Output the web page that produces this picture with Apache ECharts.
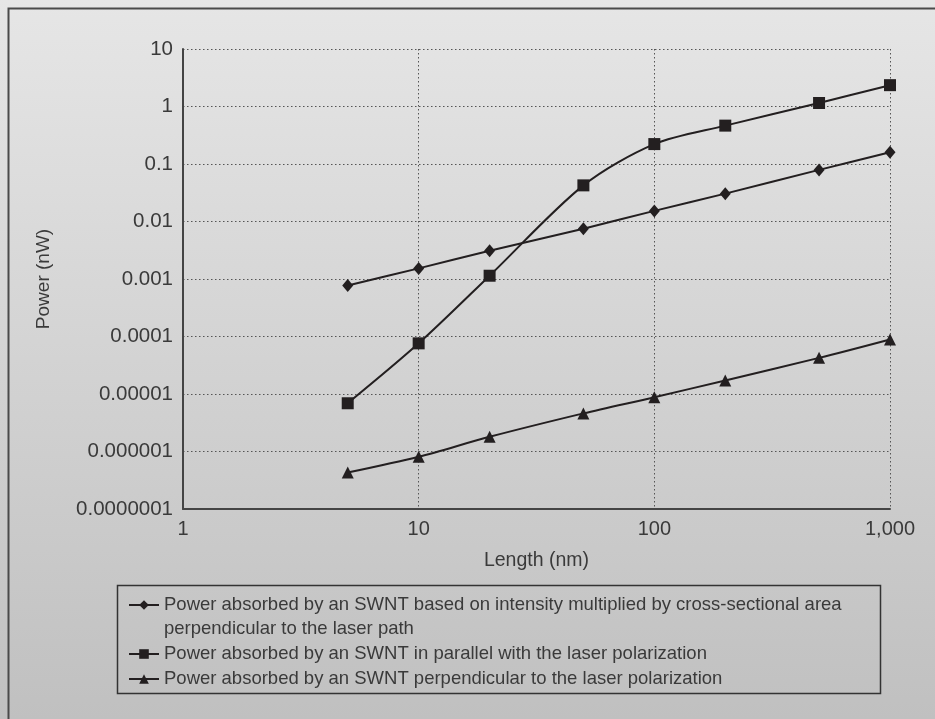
<!DOCTYPE html>
<html>
<head>
<meta charset="utf-8">
<title>Power absorbed by an SWNT</title>
<script src="https://cdn.jsdelivr.net/npm/echarts@6/dist/echarts.min.js"></script>
<style>
  html, body { margin: 0; padding: 0; }
  #chart { width: 935px; height: 719px; }
</style>
</head>
<body>
<div id="chart"></div>
<script>
// lengths (nm) shared by all three series
var lengths = [5, 10, 20, 50, 100, 200, 500, 1000]
// power (nW)
var crossSection = [0.00077, 0.00153, 0.0031, 0.0075, 0.0153, 0.0305, 0.079, 0.16]
var parallelPol = [0.0000069, 0.000076, 0.00114, 0.0425, 0.222, 0.465, 1.15, 2.35]
var perpendicularPol = [0.00000043, 0.00000081, 0.0000018, 0.0000046, 0.0000088, 0.0000172, 0.0000425, 0.000089]

var seriesNames = [
  "Power absorbed by an SWNT based on intensity multiplied by cross-sectional area\nperpendicular to the laser path",
  "Power absorbed by an SWNT in parallel with the laser polarization",
  "Power absorbed by an SWNT perpendicular to the laser polarization"
]
var yTickLabels = ["0.0000001", "0.000001", "0.00001", "0.0001", "0.001", "0.01", "0.1", "1", "10"]
var xTickLabels = ["1", "10", "100", "1,000"]

var font = "Liberation Sans, Arial, Helvetica, sans-serif"
var ink = "#3a3a3a"
var lineInk = "#231f20"

function pairs(values) {
  return lengths.map(function(x, i) {
    return [x, values[i]]
  })
}

function lineSeries(name, values, symbol, size) {
  return {
    name: name,
    type: "line",
    smooth: 0.3,
    data: pairs(values),
    symbol: symbol,
    symbolSize: size,
    lineStyle: { color: lineInk, width: 2 },
    itemStyle: { color: lineInk },
    emphasis: { disabled: true }
  }
}

var chart = echarts.init(document.getElementById("chart"))

var option = {
  animation: false,
  backgroundColor: {
    type: "linear",
    x: 0, y: 0, x2: 0, y2: 1,
    colorStops: [
      { offset: 0, color: "#e6e6e6" },
      { offset: 1, color: "#c0c0c0" }
    ]
  },
  textStyle: { fontFamily: font, color: ink },
  graphic: [
    // outer frame (runs off the right and bottom edge)
    {
      type: "rect",
      shape: { x: 8.5, y: 8.5, width: 960, height: 760 },
      style: { fill: "none", stroke: "#4a4a4a", lineWidth: 2 },
      silent: true
    },
    // legend box
    {
      type: "rect",
      shape: { x: 117.5, y: 585.5, width: 763, height: 108 },
      style: { fill: "none", stroke: "#333", lineWidth: 1.5 },
      silent: true
    }
  ],
  grid: { left: 183, right: 45, top: 49, bottom: 210 },
  legend: {
    orient: "vertical",
    left: 128,
    top: 569,
    padding: 0,
    itemGap: 1,
    itemWidth: 30,
    itemHeight: 12,
    selectedMode: false,
    textStyle: { fontFamily: font, fontSize: 18.5, color: ink, lineHeight: 24 },
    // blank first row keeps the icon level with the first line of the wrapped name
    formatter: function(name) {
      return name === seriesNames[0] ? "\n" + name : name
    },
    data: seriesNames
  },
  xAxis: {
    type: "log",
    logBase: 10,
    min: 1,
    max: 1000,
    interval: 1,
    name: "Length (nm)",
    nameLocation: "middle",
    nameGap: 42,
    nameTextStyle: { fontSize: 19.5, color: ink, fontFamily: font },
    axisLine: { show: true, lineStyle: { color: "#444", width: 2 } },
    axisTick: { show: false },
    minorTick: { show: false },
    axisLabel: {
      fontSize: 20,
      color: ink,
      margin: 10,
      fontFamily: font,
      formatter: function(v) {
        return xTickLabels[Math.round(Math.log10(v))]
      }
    },
    splitLine: {
      show: true,
      lineStyle: { color: "#555", width: 1, type: [1.5, 2.5] }
    }
  },
  yAxis: {
    type: "log",
    logBase: 10,
    min: 0.0000001,
    max: 10,
    interval: 1,
    name: "Power (nW)",
    nameLocation: "middle",
    nameGap: 130,
    nameTextStyle: { fontSize: 19, color: ink, fontFamily: font },
    axisLine: { show: true, lineStyle: { color: "#444", width: 2 } },
    axisTick: { show: false },
    minorTick: { show: false },
    axisLabel: {
      fontSize: 20.5,
      color: ink,
      margin: 10,
      fontFamily: font,
      formatter: function(v) {
        return yTickLabels[Math.round(Math.log10(v)) + 7]
      }
    },
    splitLine: {
      show: true,
      lineStyle: { color: "#555", width: 1, type: [1.5, 2.5] }
    }
  },
  series: [
    lineSeries(seriesNames[0], crossSection, "diamond", [11, 13]),
    lineSeries(seriesNames[1], parallelPol, "rect", 12),
    lineSeries(seriesNames[2], perpendicularPol, "triangle", 12)
  ]
}

chart.setOption(option)
</script>
</body>
</html>
